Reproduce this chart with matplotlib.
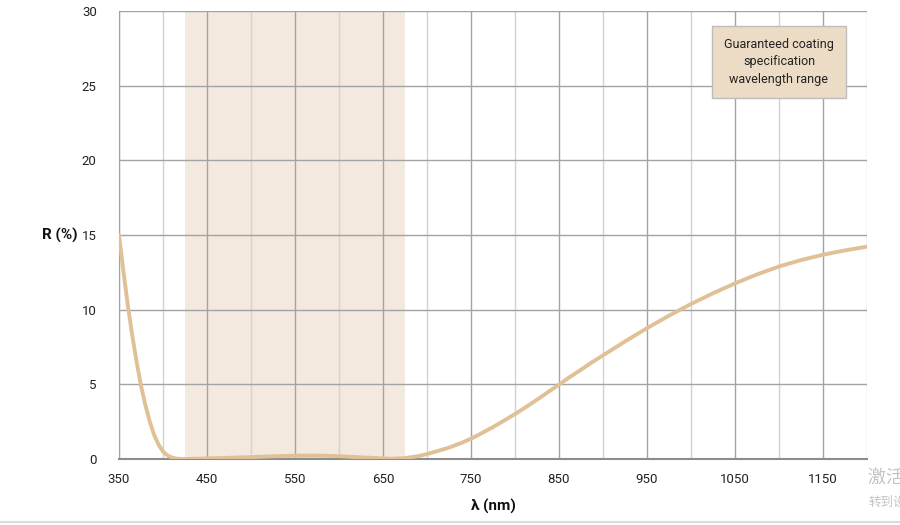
import numpy as np
import matplotlib
matplotlib.use("Agg")
import matplotlib.pyplot as plt
from matplotlib.lines import Line2D

plt.rcParams['font.family'] = ['Roboto', 'Noto Sans CJK SC', 'DejaVu Sans']

# =============================
# Data
# =============================
wavelength = [350, 355, 360, 365, 370, 375, 380, 385, 390, 395, 400, 405, 410, 415,
              420, 430, 450, 475, 500, 525, 550, 575, 600, 625, 650, 660, 675,
              690, 700, 710, 725, 740, 750, 760, 775, 787, 800, 812, 825, 837,
              850, 862, 875, 887, 900, 925, 950, 975,
              1000, 1025, 1050, 1075, 1100, 1125, 1150, 1175, 1200]
reflectance = [15.0, 12.6, 10.3, 8.3, 6.5, 4.9, 3.6, 2.5, 1.6, 0.95, 0.5, 0.24, 0.1, 0.03,
               0.0, 0.0, 0.04, 0.08, 0.13, 0.18, 0.22, 0.23, 0.19, 0.11, 0.04, 0.02, 0.06,
               0.19, 0.33, 0.5, 0.76, 1.1, 1.36, 1.66, 2.14, 2.55, 3.01, 3.46, 3.97, 4.46,
               4.98, 5.48, 5.98, 6.46, 6.94, 7.87, 8.76, 9.6,
               10.38, 11.1, 11.76, 12.36, 12.89, 13.32, 13.68, 13.97, 14.22]

spec_range = (425, 675)
x_ticks = [350, 450, 550, 650, 750, 850, 950, 1050, 1150]
y_ticks = [0, 5, 10, 15, 20, 25, 30]
box_text = "Guaranteed coating\nspecification\nwavelength range"

# =============================
# Figure
# =============================
fig = plt.figure(figsize=(9, 5.25), dpi=100)
ax = fig.add_axes([119 / 900, 66 / 525, 748 / 900, 448 / 525])

ax.set_xlim(350, 1200)
ax.set_ylim(0, 30)

# grid: major (labelled) darker, minor lighter
for x in range(350, 1201, 50):
    c = '#a3a3a3' if x in x_ticks else '#d2d2d2'
    ax.axvline(x, color=c, lw=1.0, zorder=1)
for y in y_ticks[1:]:
    ax.axhline(y, color='#a3a3a3', lw=1.0, zorder=1)

ax.axvspan(*spec_range, color='#f3e9de', zorder=0, lw=0)

ax.plot(wavelength, reflectance, color='#e0c197', lw=2.8, zorder=3,
        solid_capstyle='round', solid_joinstyle='round')

for side in ['top', 'right']:
    ax.spines[side].set_visible(False)
ax.spines['left'].set_color('#a3a3a3')
ax.spines['bottom'].set_color('#8c8c8c')
ax.spines['bottom'].set_linewidth(1.5)

ax.set_xticks(x_ticks)
ax.set_yticks(y_ticks)
ax.tick_params(length=0, labelsize=9.5, colors='#222222')
ax.tick_params(axis='x', pad=10)
ax.tick_params(axis='y', pad=16)

fig.text(78 / 900, 1 - 235 / 525, "R (%)", ha='right', va='center',
         fontsize=11, fontweight='bold', color='#111111')
fig.text(493 / 900, 1 - 506 / 525, "λ (nm)", ha='center', va='center',
         fontsize=11, fontweight='bold', color='#111111')

ax.text(1100, 26.6, box_text, ha='center', va='center', fontsize=9,
        color='#222222', linespacing=1.45, zorder=5,
        bbox=dict(boxstyle='square,pad=0.95', fc='#ecdcc5', ec='#bdbdbd', lw=1))

# windows watermark at the right edge (cut off in the reference too)
fig.text(868 / 900, 1 - 478 / 525, "激活 Windows", ha='left', va='center',
         fontsize=13, color='#c4c4c4', family=['Noto Sans CJK SC', 'DejaVu Sans'])
fig.text(868 / 900, 1 - 502 / 525, "转到设置以激活", ha='left', va='center',
         fontsize=9, color='#c4c4c4', family=['Noto Sans CJK SC', 'DejaVu Sans'])
fig.add_artist(Line2D([0, 1], [1 - 522 / 525] * 2, color='#dcdcdc', lw=1.5,
                      transform=fig.transFigure))

fig.savefig("out.png", dpi=100)
